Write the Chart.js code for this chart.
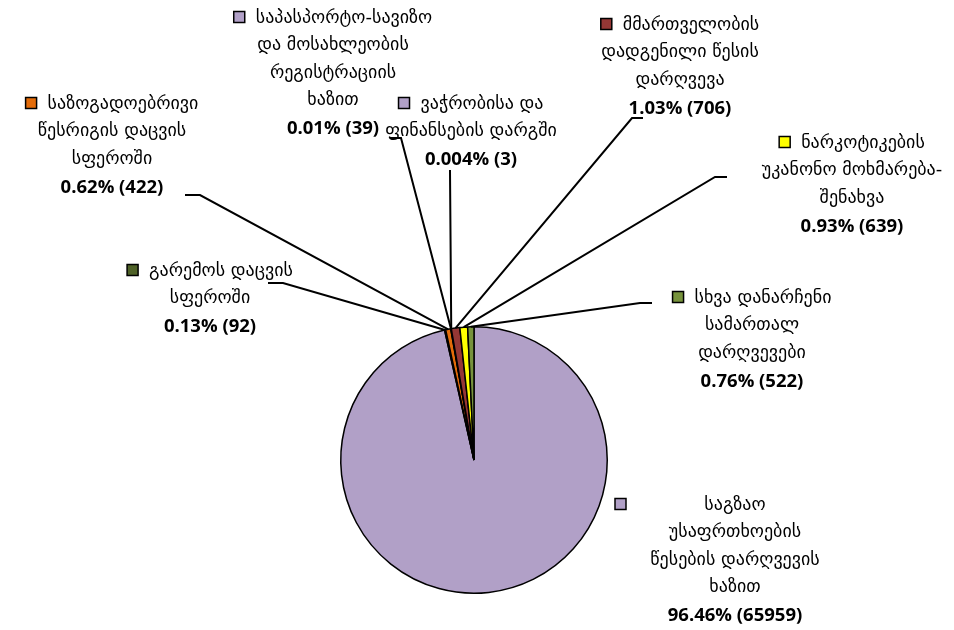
<!DOCTYPE html>
<html><head><meta charset="utf-8">
<script src="https://cdn.jsdelivr.net/npm/chart.js@4"></script>
<style>html,body{margin:0;padding:0;background:#fff}#wrap{width:954px;height:630px;position:relative}</style>
</head><body><div id="wrap"><canvas id="c"></canvas></div>
<script>
// ---- data ----
const categoryLines = [
  ["საგზაო","უსაფრთხოების","წესების დარღვევის","ხაზით"],
  ["გარემოს დაცვის","სფეროში"],
  ["საზოგადოებრივი","წესრიგის დაცვის","სფეროში"],
  ["საპასპორტო-სავიზო","და მოსახლეობის","რეგისტრაციის","ხაზით"],
  ["ვაჭრობისა და","ფინანსების დარგში"],
  ["მმართველობის","დადგენილი წესის","დარღვევა"],
  ["ნარკოტიკების","უკანონო მოხმარება-","შენახვა"],
  ["სხვა დანარჩენი","სამართალ","დარღვევები"]
];
const counts = [65959, 92, 422, 39, 3, 706, 639, 522];
const percentLabels = ["96.46%","0.13%","0.62%","0.01%","0.004%","1.03%","0.93%","0.76%"];

// ---- styles / layout ----
const colors = ['#B1A0C7','#4F6228','#E46C0A','#B1A0C7','#B1A0C7','#953735','#FFFF00','#77933C'];
const labelCenterX = [735, 210, 112, 333, 471, 680, 852, 752];
const labelTopY    = [505, 271, 104, 18, 104, 25, 143, 298];
const keyFixedX    = [615, null, null, null, null, null, null, null];
const leaderElbows = [
  null,
  [[268,283],[283,283]],
  [[185,195],[200,195]],
  [[390,138],[401,138]],
  [[450,170],[450,171]],
  [[643,118],[632,118]],
  [[727,177],[715,177]],
  [[652,303],[640,303]]
];
const LINE_H = 27.5;
const GEO_FONT = '18px "DejaVu Sans"';
const NUM_FONT = 'bold 18.5px "Open Sans"';

function drawKey(ctx, x, y, color) {
  const ks = 11;
  ctx.fillStyle = color;
  ctx.fillRect(x, y - ks/2 - 1, ks, ks);
  ctx.lineWidth = 1.5;
  ctx.strokeStyle = '#000';
  ctx.strokeRect(x, y - ks/2 - 1, ks, ks);
  ctx.fillStyle = '#000';
}

const labelPlugin = {
  id: 'labels',
  afterDraw(chart) {
    const ctx = chart.ctx;
    const meta = chart.getDatasetMeta(0);
    ctx.save();
    ctx.strokeStyle = '#000';
    ctx.lineWidth = 2;
    meta.data.forEach((arc, i) => {
      const el = leaderElbows[i];
      if (!el) return;
      const p = arc.getProps(['x','y','startAngle','endAngle','outerRadius'], true);
      const a = (p.startAngle + p.endAngle) / 2;
      const ax = p.x + p.outerRadius * Math.cos(a);
      const ay = p.y + p.outerRadius * Math.sin(a);
      ctx.beginPath();
      ctx.moveTo(el[0][0], el[0][1]);
      ctx.lineTo(el[1][0], el[1][1]);
      ctx.lineTo(ax, ay);
      ctx.stroke();
    });
    ctx.fillStyle = '#000';
    ctx.textBaseline = 'middle';
    categoryLines.forEach((lines, i) => {
      const cx = labelCenterX[i];
      let y = labelTopY[i];
      lines.forEach((t, j) => {
        ctx.font = GEO_FONT;
        if (j === 0 && keyFixedX[i] === null) {
          const w = ctx.measureText(t).width;
          const ks = 11, gap = 11;
          const start = cx - (ks + gap + w) / 2;
          drawKey(ctx, start, y, colors[i]);
          ctx.textAlign = 'left';
          ctx.fillText(t, start + ks + gap, y);
        } else {
          if (j === 0) drawKey(ctx, keyFixedX[i], y, colors[i]);
          ctx.textAlign = 'center';
          ctx.fillText(t, cx, y);
        }
        y += LINE_H;
      });
      ctx.font = NUM_FONT;
      ctx.textAlign = 'center';
      ctx.fillText(percentLabels[i] + ' (' + counts[i] + ')', cx, y + 1);
    });
    ctx.restore();
  }
};

new Chart(document.getElementById('c'), {
  type: 'pie',
  data: {
    labels: categoryLines.map(l => l.join(' ')),
    datasets: [{
      data: counts,
      backgroundColor: colors,
      borderColor: '#000',
      borderWidth: 1.5
    }]
  },
  options: {
    responsive: true,
    maintainAspectRatio: false,
    animation: false,
    layout: { padding: { left: 340, right: 346, top: 326, bottom: 36 } },
    plugins: { legend: { display: false }, tooltip: { enabled: false } }
  },
  plugins: [labelPlugin]
});
</script></body></html>
